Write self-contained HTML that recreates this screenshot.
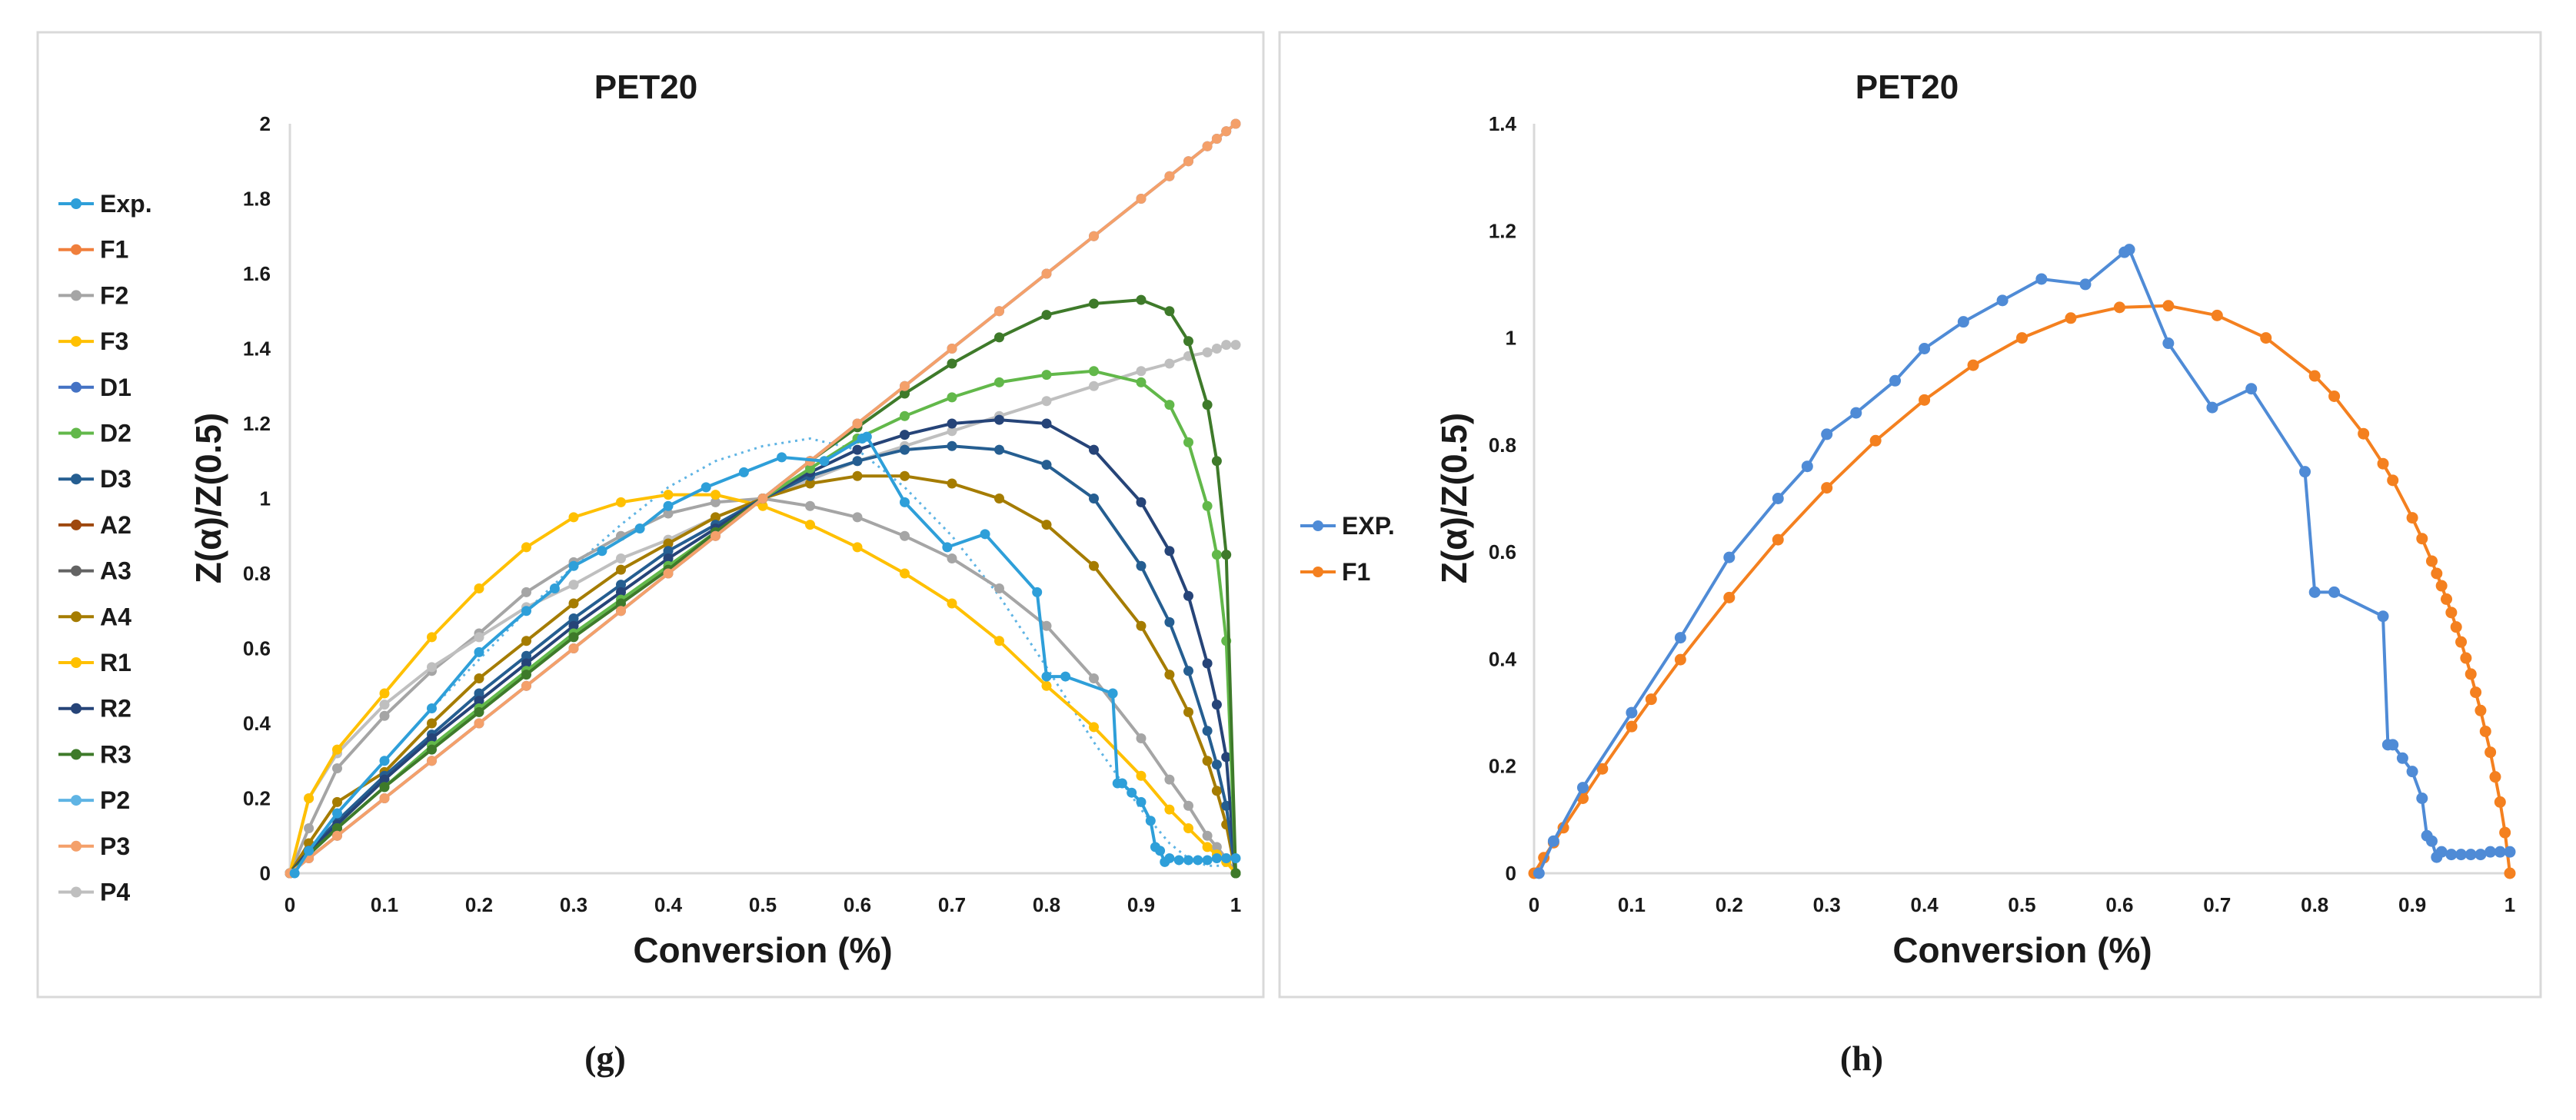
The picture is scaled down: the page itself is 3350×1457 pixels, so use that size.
<!DOCTYPE html>
<html><head><meta charset="utf-8"><style>
html,body{margin:0;padding:0;background:#fff;}
svg{display:block;}
text{font-family:"Liberation Sans Narrow","Liberation Sans",sans-serif;font-weight:bold;fill:#1a1a1a;}
.cap{font-family:"Liberation Serif",serif;font-size:46px;}
</style></head><body>
<svg id="fig" width="3350" height="1457" viewBox="0 0 3350 1457" xmlns="http://www.w3.org/2000/svg">
<rect x="49" y="42" width="1594" height="1255" fill="#fff" stroke="#d9d9d9" stroke-width="3"/>
<rect x="1664" y="42" width="1640" height="1255" fill="#fff" stroke="#d9d9d9" stroke-width="3"/>
<text x="840" y="128" font-size="44" text-anchor="middle">PET20</text>
<text x="2480" y="128" font-size="44" text-anchor="middle">PET20</text>
<text x="992" y="1252" font-size="46" text-anchor="middle">Conversion (%)</text>
<text x="2630" y="1252" font-size="46" text-anchor="middle">Conversion (%)</text>
<text transform="translate(287,648) rotate(-90)" font-size="46" text-anchor="middle">Z(α)/Z(0.5)</text>
<text transform="translate(1907,648) rotate(-90)" font-size="46" text-anchor="middle">Z(α)/Z(0.5)</text>
<text class="cap" x="787" y="1392" text-anchor="middle">(g)</text>
<text class="cap" x="2421" y="1392" text-anchor="middle">(h)</text>
<g id="gA"></g>
<g id="gB"></g>
</svg>
<script>
// ---- data: chart g ----
const gridX = [0,0.02,0.05,0.1,0.15,0.2,0.25,0.3,0.35,0.4,0.45,0.5,0.55,0.6,0.65,0.7,0.75,0.8,0.85,0.9,0.93,0.95,0.97,0.98,0.99,1];
const lineF1 = [0,.04,.1,.2,.3,.4,.5,.6,.7,.8,.9,1,1.1,1.2,1.3,1.4,1.5,1.6,1.7,1.8,1.86,1.9,1.94,1.96,1.98,2];
const lineF2 = [0,.12,.28,.42,.54,.64,.75,.83,.9,.96,.99,1,.98,.95,.9,.84,.76,.66,.52,.36,.25,.18,.1,.07,.04,0];
const lineF3 = [0,.2,.33,.48,.63,.76,.87,.95,.99,1.01,1.01,.98,.93,.87,.8,.72,.62,.5,.39,.26,.17,.12,.07,.05,.03,0];
const lineA4 = [0,.08,.19,.27,.4,.52,.62,.72,.81,.88,.95,1,1.04,1.06,1.06,1.04,1,.93,.82,.66,.53,.43,.3,.22,.13,0];
const lineP4 = [0,.2,.32,.45,.55,.63,.71,.77,.84,.89,.95,1,1.05,1.1,1.14,1.18,1.22,1.26,1.3,1.34,1.36,1.38,1.39,1.4,1.41,1.41];
const lineR3 = [0,.05,.12,.23,.33,.43,.53,.63,.72,.81,.91,1,1.1,1.19,1.28,1.36,1.43,1.49,1.52,1.53,1.5,1.42,1.25,1.1,.85,0];
const lineD2 = [0,.05,.12,.23,.34,.44,.54,.64,.73,.82,.91,1,1.08,1.16,1.22,1.27,1.31,1.33,1.34,1.31,1.25,1.15,.98,.85,.62,0];
const lineR2 = [0,.06,.13,.25,.36,.46,.56,.66,.75,.84,.92,1,1.07,1.13,1.17,1.2,1.21,1.2,1.13,.99,.86,.74,.56,.45,.31,0];
const lineD3 = [0,.06,.14,.26,.37,.48,.58,.68,.77,.86,.93,1,1.06,1.1,1.13,1.14,1.13,1.09,1,.82,.67,.54,.38,.29,.18,0];
const lineP2 = [0,.06,.16,.3,.44,.57,.7,.82,.93,1.03,1.1,1.14,1.16,1.13,1.03,.9,.74,.55,.35,.17,.08,.04,.02,.02,.02,.02];
const expX = [0.005,0.02,0.05,0.1,0.15,0.2,0.25,0.28,0.3,0.33,0.37,0.4,0.44,0.48,0.52,0.565,0.605,0.61,0.65,0.695,0.735,0.79,0.8,0.82,0.87,0.875,0.88,0.89,0.9,0.91,0.915,0.92,0.925,0.93,0.94,0.95,0.96,0.97,0.98,0.99,1.0];
const expY = [0,.06,.16,.3,.44,.59,.7,.76,.82,.86,.92,.98,1.03,1.07,1.11,1.1,1.16,1.165,.99,.87,.905,.75,.525,.525,.48,.24,.24,.215,.19,.14,.07,.06,.03,.04,.035,.035,.035,.035,.04,.04,.04];
const yTicksG = ["0","0.2","0.4","0.6","0.8","1","1.2","1.4","1.6","1.8","2"];
const xTicks = ["0","0.1","0.2","0.3","0.4","0.5","0.6","0.7","0.8","0.9","1"];
const legendG = ["Exp.","F1","F2","F3","D1","D2","D3","A2","A3","A4","R1","R2","R3","P2","P3","P4"];
// ---- data: chart h ----
const f1X = [0,.01,.02,.03,.05,.07,.1,.12,.15,.2,.25,.3,.35,.4,.45,.5,.55,.6,.65,.7,.75,.8,.82,.85,.87,.88,.9,.91,.92,.925,.93,.935,.94,.945,.95,.955,.96,.965,.97,.975,.98,.985,.99,.995,1];
const f1Y = [0,.029,.057,.085,.14,.195,.274,.325,.399,.515,.623,.72,.808,.884,.949,1,1.037,1.057,1.06,1.042,1,.929,.891,.821,.765,.734,.664,.625,.583,.56,.537,.512,.487,.46,.432,.402,.372,.338,.304,.265,.226,.18,.133,.076,0];
const yTicksH = ["0","0.2","0.4","0.6","0.8","1","1.2","1.4"];
const legendH = ["EXP.","F1"];

const NS = "http://www.w3.org/2000/svg";
function mk(tag, attrs, parent){const e=document.createElementNS(NS,tag);for(const k in attrs)e.setAttribute(k,attrs[k]);parent.appendChild(e);return e;}

function drawChart(g, x0, x1, y0, y1, ymax, yTicks, tickX){
  const sx=v=>x0+(x1-x0)*v, sy=v=>y0-(y0-y1)*v/ymax;
  let e=mk("line",{x1:x0,y1:y0,x2:x1,y2:y0,stroke:"#d9d9d9","stroke-width":3},g);
  
  
  e=mk("line",{x1:x0,y1:y0,x2:x0,y2:y1,stroke:"#d9d9d9","stroke-width":3},g);
  
  
  yTicks.forEach((t)=>{const t2=mk("text",{x:tickX,y:sy(parseFloat(t))+9,"font-size":26,"text-anchor":"end"},g);t2.textContent=t;
    
    });
  xTicks.forEach((t)=>{const t2=mk("text",{x:sx(parseFloat(t)),y:y0+50,"font-size":26,"text-anchor":"middle"},g);t2.textContent=t;
    
    });
  return {sx,sy};
}
function series(g, ax, xs, ys, color, name, r, dash, noMarker){
  const s=mk("g",{},g);
  
  
  const pts=xs.map((x,i)=>ax.sx(x).toFixed(1)+","+ax.sy(ys[i]).toFixed(1)).join(" ");
  const p=mk("polyline",{points:pts,fill:"none",stroke:color,"stroke-width":dash?3:4,"stroke-linejoin":"round","stroke-dasharray":dash||"none"},s);
  
  
  if(!noMarker) xs.forEach((x,i)=>{const c=mk("circle",{cx:ax.sx(x),cy:ax.sy(ys[i]),r:r,fill:color},s);
    
    });
}
function legend(g, names, colors, lx, ly, step){
  names.forEach((n,i)=>{const y=ly+i*step;const it=mk("g",{},g);
    
    
    mk("line",{x1:lx,y1:y,x2:lx+46,y2:y,stroke:colors[i],"stroke-width":4},it);
    mk("circle",{cx:lx+23,cy:y,r:7,fill:colors[i]},it);
    const t=mk("text",{x:lx+54,y:y+11,"font-size":32},it);t.textContent=n;});
}

const gA=document.getElementById("gA");
const axA=drawChart(gA,377,1607,1136,161,2,yTicksG,352);
const cG={exp:"#2e9fd9",F1:"#f07f3c",F2:"#a5a5a5",F3:"#ffc000",D1:"#4472c4",D2:"#62b84a",D3:"#255e91",A2:"#9e480e",A3:"#636363",A4:"#a57c00",R1:"#ffc000",R2:"#264478",R3:"#3e7a2a",P2:"#5fb4e4",P3:"#f4a06a",P4:"#bfbfbf"};
series(gA,axA,gridX,lineP2,cG.P2,"p2",0,"3,6",true);
series(gA,axA,gridX,lineF2,cG.F2,"f2",6.5);
series(gA,axA,gridX,lineP4,cG.P4,"p4",6.5);
series(gA,axA,gridX,lineF3,cG.F3,"f3",6.5);
series(gA,axA,gridX,lineA4,cG.A4,"a4",6.5);
series(gA,axA,gridX,lineD3,cG.D3,"d3",6.5);
series(gA,axA,gridX,lineR2,cG.R2,"r2",6.5);
series(gA,axA,gridX,lineD2,cG.D2,"d2",6.5);
series(gA,axA,gridX,lineR3,cG.R3,"r3",6.5);
series(gA,axA,gridX,lineF1,cG.D1,"d1",6.5);
series(gA,axA,gridX,lineF1,cG.P3,"p3",6.5);
series(gA,axA,expX,expY,cG.exp,"exp",6.5);
legend(gA,legendG,[cG.exp,cG.F1,cG.F2,cG.F3,cG.D1,cG.D2,cG.D3,cG.A2,cG.A3,cG.A4,cG.R1,cG.R2,cG.R3,cG.P2,cG.P3,cG.P4],76,265,59.7);

const gB=document.getElementById("gB");
const axB=drawChart(gB,1995,3264,1136,161,1.4,yTicksH,1972);
series(gB,axB,f1X,f1Y,"#f4801f","f1",7.5);
series(gB,axB,expX,expY,"#4f8bd6","exp",7.5);
legend(gB,legendH,["#4f8bd6","#f4801f"],1691,684,60);
</script>
</body></html>
